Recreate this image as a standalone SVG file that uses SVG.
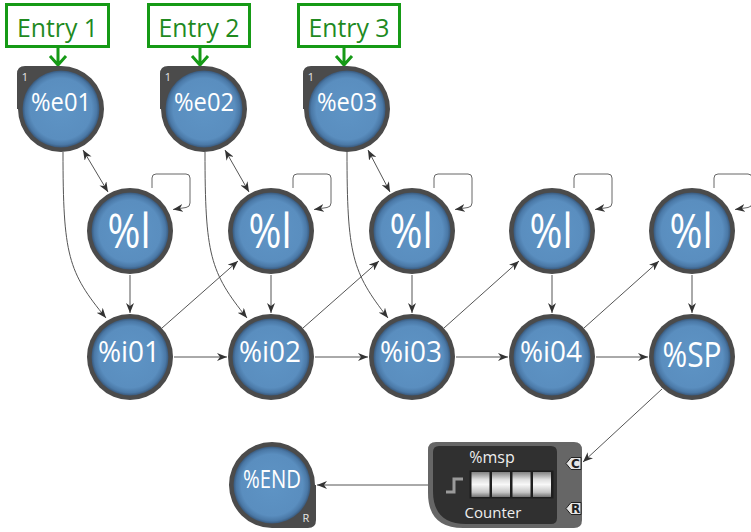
<svg xmlns="http://www.w3.org/2000/svg" width="751" height="532" viewBox="0 0 751 532">
  <style>
    .ring { fill: #4b4b4b; }
    .core { fill: url(#blue); }
    .lbl { fill: #ffffff; font-family: "Open Sans", "Liberation Sans", sans-serif; text-anchor: middle; }
    .tabno { fill: #e6e6e6; font-family: "Open Sans", sans-serif; font-size: 11px; text-anchor: middle; }
    .entry rect { fill: #ffffff; stroke: #169a16; stroke-width: 3; }
    .entry text { fill: #1f8a1f; font-family: "Open Sans", "Liberation Sans", sans-serif; font-size: 26px; text-anchor: middle; }
    .wire { fill: none; stroke: #555; stroke-width: 1; marker-end: url(#tip); }
    .both { marker-start: url(#tip); }
    .loop { fill: none; stroke: #666; stroke-width: 1; marker-end: url(#tip); }
    .green { fill: none; stroke: #169a16; stroke-width: 3; }
    .port { fill: #e4e4e4; stroke: #222; stroke-width: 1; }
    .portlbl { fill: #222; font-family: "DejaVu Sans", sans-serif; font-size: 12px; font-weight: bold; text-anchor: middle; }
    .cell { fill: url(#metal); stroke: #1e1e1e; stroke-width: 1; }
  </style>
  <defs>
    <radialGradient id="blue" cx="0.5" cy="0.5" r="0.5">
      <stop offset="0" stop-color="#5e94c5"/>
      <stop offset="0.8" stop-color="#5a8ebf"/>
      <stop offset="0.93" stop-color="#4a78a6"/>
      <stop offset="1" stop-color="#39597c"/>
    </radialGradient>
    <linearGradient id="metal" x1="0" y1="0" x2="0" y2="1">
      <stop offset="0" stop-color="#7c7c7c"/>
      <stop offset="0.3" stop-color="#dedede"/>
      <stop offset="0.5" stop-color="#f8f8f8"/>
      <stop offset="0.8" stop-color="#c4c4c4"/>
      <stop offset="1" stop-color="#6a6a6a"/>
    </linearGradient>
    <marker id="tip" viewBox="0 0 10 8" refX="10" refY="4" markerWidth="10" markerHeight="8" markerUnits="userSpaceOnUse" orient="auto-start-reverse">
      <path d="M0,0 L10,4 L0,8 L3,4 Z" fill="#333"/>
    </marker>
    <path id="tabTL" class="ring" d="M-44,0 V-35 Q-44,-43 -36,-43 H0 A43,43 0 1 1 -43,0 Z"/>
    <path id="tabBR" class="ring" d="M44,0 V35 Q44,43 36,43 H0 A43,43 0 1 1 43,0 Z"/>
    <g id="plain">
      <circle class="ring" r="43"/>
      <circle class="core" r="38.5"/>
    </g>
  </defs>

  <rect width="751" height="532" fill="#ffffff"/>

  <!-- connectors -->
  <g id="connectors">
    <!-- entry pointers -->
    <path class="green" d="M58,48 V65 M50,56 L58,65 L66,56"/>
    <path class="green" d="M200,48 V65 M192,56 L200,65 L208,56"/>
    <path class="green" d="M344,48 V65 M336,56 L344,65 L352,56"/>

    <!-- entry to first step -->
    <path class="wire" d="M63,152 C63,255 68,272 106,318"/>
    <path class="wire" d="M205,152 C205,255 210,272 247,318"/>
    <path class="wire" d="M347,152 C347,255 352,272 388,318"/>

    <!-- entry <-> loop step -->
    <path class="wire both" d="M83,150 L108,192"/>
    <path class="wire both" d="M225,150 L249,192"/>
    <path class="wire both" d="M368,150 L390,192"/>

    <!-- self loops -->
    <path class="loop" d="M152,188 V178 Q152,174 156,174 H186 Q190,174 190,178 V203 Q190,207 186,207.5 L173,209.5"/>
    <path class="loop" d="M293,188 V178 Q293,174 297,174 H327 Q331,174 331,178 V203 Q331,207 327,207.5 L314,209.5"/>
    <path class="loop" d="M434,188 V178 Q434,174 438,174 H468 Q472,174 472,178 V203 Q472,207 468,207.5 L455,209.5"/>
    <path class="loop" d="M574,188 V178 Q574,174 578,174 H608 Q612,174 612,178 V203 Q612,207 608,207.5 L595,209.5"/>
    <path class="loop" d="M714,188 V178 Q714,174 718,174 H748 Q752,174 752,178 V203 Q752,207 748,207.5 L735,209.5"/>

    <!-- loop step down to step -->
    <path class="wire" d="M130,275 V313"/>
    <path class="wire" d="M271,275 V313"/>
    <path class="wire" d="M412,275 V313"/>
    <path class="wire" d="M552,275 V313"/>
    <path class="wire" d="M692,275 V313"/>

    <!-- step chain -->
    <path class="wire" d="M174,357 H227"/>
    <path class="wire" d="M315,357 H368"/>
    <path class="wire" d="M456,357 H508"/>
    <path class="wire" d="M596,357 H648"/>

    <!-- step up to next loop step -->
    <path class="wire" d="M162,328 L238,261"/>
    <path class="wire" d="M303,328 L379,261"/>
    <path class="wire" d="M444,328 L519,261"/>
    <path class="wire" d="M584,328 L659,261"/>

    <!-- %SP to counter, counter to %END -->
    <path class="wire" d="M662,389 L583,462"/>
    <path class="wire" d="M428,485 H317"/>
  </g>

  <!-- entry labels -->
  <g id="entry1" class="entry">
    <rect x="6.5" y="4.5" width="102" height="42"/>
    <text x="57.5" y="37" textLength="81" lengthAdjust="spacingAndGlyphs">Entry 1</text>
  </g>
  <g id="entry2" class="entry">
    <rect x="148.5" y="4.5" width="101" height="42"/>
    <text x="199" y="37" textLength="81" lengthAdjust="spacingAndGlyphs">Entry 2</text>
  </g>
  <g id="entry3" class="entry">
    <rect x="298.5" y="4.5" width="101" height="42"/>
    <text x="349" y="37" textLength="81" lengthAdjust="spacingAndGlyphs">Entry 3</text>
  </g>

  <!-- entry steps -->
  <g id="e01" transform="translate(61,109)">
    <use href="#tabTL"/>
    <circle class="core" r="38.5"/>
    <text class="tabno" x="-36" y="-28">1</text>
    <text class="lbl" x="0" y="2" font-size="25" textLength="60" lengthAdjust="spacingAndGlyphs">%e01</text>
  </g>
  <g id="e02" transform="translate(204,109)">
    <use href="#tabTL"/>
    <circle class="core" r="38.5"/>
    <text class="tabno" x="-36" y="-28">1</text>
    <text class="lbl" x="0" y="2" font-size="25" textLength="60" lengthAdjust="spacingAndGlyphs">%e02</text>
  </g>
  <g id="e03" transform="translate(347,109)">
    <use href="#tabTL"/>
    <circle class="core" r="38.5"/>
    <text class="tabno" x="-36" y="-28">1</text>
    <text class="lbl" x="0" y="2" font-size="25" textLength="60" lengthAdjust="spacingAndGlyphs">%e03</text>
  </g>

  <!-- loop steps -->
  <g id="l1" transform="translate(130,231)">
    <use href="#plain"/>
    <text class="lbl" x="-1" y="17" font-size="48" textLength="43" lengthAdjust="spacingAndGlyphs">%l</text>
  </g>
  <g id="l2" transform="translate(271,231)">
    <use href="#plain"/>
    <text class="lbl" x="-1" y="17" font-size="48" textLength="43" lengthAdjust="spacingAndGlyphs">%l</text>
  </g>
  <g id="l3" transform="translate(412,231)">
    <use href="#plain"/>
    <text class="lbl" x="-1" y="17" font-size="48" textLength="43" lengthAdjust="spacingAndGlyphs">%l</text>
  </g>
  <g id="l4" transform="translate(552,231)">
    <use href="#plain"/>
    <text class="lbl" x="-1" y="17" font-size="48" textLength="43" lengthAdjust="spacingAndGlyphs">%l</text>
  </g>
  <g id="l5" transform="translate(692,231)">
    <use href="#plain"/>
    <text class="lbl" x="-1" y="17" font-size="48" textLength="43" lengthAdjust="spacingAndGlyphs">%l</text>
  </g>

  <!-- chain steps -->
  <g id="i01" transform="translate(130,357)">
    <use href="#plain"/>
    <text class="lbl" x="-1" y="5" font-size="29" textLength="62" lengthAdjust="spacingAndGlyphs">%i01</text>
  </g>
  <g id="i02" transform="translate(271,357)">
    <use href="#plain"/>
    <text class="lbl" x="-1" y="5" font-size="29" textLength="62" lengthAdjust="spacingAndGlyphs">%i02</text>
  </g>
  <g id="i03" transform="translate(412,357)">
    <use href="#plain"/>
    <text class="lbl" x="-1" y="5" font-size="29" textLength="62" lengthAdjust="spacingAndGlyphs">%i03</text>
  </g>
  <g id="i04" transform="translate(552,357)">
    <use href="#plain"/>
    <text class="lbl" x="-1" y="5" font-size="29" textLength="62" lengthAdjust="spacingAndGlyphs">%i04</text>
  </g>
  <g id="SP" transform="translate(692,357)">
    <use href="#plain"/>
    <text class="lbl" x="0" y="10" font-size="35" textLength="59" lengthAdjust="spacingAndGlyphs">%SP</text>
  </g>

  <!-- end step -->
  <g id="END" transform="translate(272,485)">
    <use href="#tabBR"/>
    <circle class="core" r="38.5"/>
    <text class="tabno" x="34" y="37">R</text>
    <text class="lbl" x="0" y="3" font-size="25" textLength="58" lengthAdjust="spacingAndGlyphs">%END</text>
  </g>

  <!-- counter block -->
  <g id="msp">
    <path fill="#666666" d="M436,442 H574 Q582,442 582,450 V520 Q582,528 574,528 H463 Q428,528 428,493 V450 Q428,442 436,442 Z"/>
    <path fill="#303030" d="M439,446 H551 Q557,446 557,452 V518 Q557,524 551,524 H466 Q433,524 433,491 V452 Q433,446 439,446 Z"/>
    <text x="492" y="463" fill="#eeeeee" font-family="'Open Sans', sans-serif" font-size="16" text-anchor="middle">%msp</text>
    <polyline points="446,492 454,492 454,479 463,479" fill="none" stroke="#9a9a9a" stroke-width="3"/>
    <rect x="469.5" y="470.5" width="84" height="28" fill="#1e1e1e"/>
    <rect class="cell" x="471" y="471.5" width="19" height="26"/>
    <rect class="cell" x="491.5" y="471.5" width="19" height="26"/>
    <rect class="cell" x="512" y="471.5" width="19" height="26"/>
    <rect class="cell" x="532.5" y="471.5" width="19" height="26"/>
    <text x="493" y="518" fill="#eeeeee" font-family="'Open Sans', sans-serif" font-size="15" text-anchor="middle">Counter</text>
    <polygon class="port" points="566,463.5 571,457.5 581,457.5 581,469.5 571,469.5"/>
    <text class="portlbl" x="575.5" y="468">C</text>
    <polygon class="port" points="566,508.5 571,502.5 581,502.5 581,514.5 571,514.5"/>
    <text class="portlbl" x="575.5" y="513">R</text>
  </g>
</svg>
